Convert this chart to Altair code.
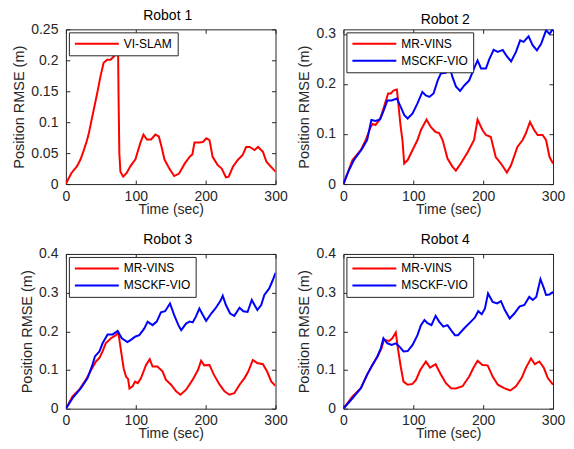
import altair as alt
import pandas as pd

FONT = "Liberation Sans"
INK = "#262626"
RED = "#ff0000"
BLUE = "#0000ff"

# ---------------- Robot 1 ----------------
r1_t = [0, 2, 8, 16, 21, 26, 30, 33, 37, 40,
        44.8, 49.5, 54, 59, 64, 68.6, 73, 74.7, 75.5, 76.5,
        78, 82, 87, 92.4, 99.5, 106.7, 111, 116, 122, 128,
        133, 137, 141, 148, 155, 162, 170, 177, 181, 184,
        191, 196, 201, 205.5, 210, 217, 223, 229, 233, 239,
        246, 253, 258, 263, 270, 275, 282, 287, 291, 296,
        300]
r1_vislam = [0, 0.005, 0.018, 0.029, 0.04, 0.056, 0.07, 0.083, 0.105, 0.121,
             0.147, 0.174, 0.196, 0.201, 0.201, 0.206, 0.212, 0.214, 0.13, 0.05,
             0.02, 0.012, 0.018, 0.029, 0.04, 0.067, 0.080, 0.072, 0.072, 0.080,
             0.077, 0.06, 0.04, 0.025, 0.013, 0.017, 0.033, 0.044, 0.048, 0.067,
             0.067, 0.068, 0.074, 0.071, 0.044, 0.031, 0.025, 0.011, 0.012, 0.028,
             0.039, 0.047, 0.06, 0.06, 0.055, 0.06, 0.052, 0.036, 0.031, 0.025,
             0.02]

# ---------------- Robot 2 ----------------
r2_mr_t = [0, 6, 13, 20, 25, 32, 39, 42, 46, 50,
           53.5, 58, 64, 68, 71, 74, 76.5, 78, 80, 82,
           84.5, 87, 92, 99, 106, 111, 119, 125, 132, 137,
           142, 149, 156, 161, 168, 178, 187, 192, 199, 204,
           211, 218, 225.5, 234, 240, 249, 256.5, 261, 267, 273,
           278, 285, 290, 295, 300]
r2_mr = [0, 0.022, 0.048, 0.06, 0.068, 0.088, 0.114, 0.12, 0.118, 0.125,
         0.134, 0.154, 0.181, 0.181, 0.186, 0.188, 0.189, 0.17, 0.141, 0.114,
         0.088, 0.041, 0.048, 0.068, 0.088, 0.108, 0.129, 0.114, 0.104, 0.102,
         0.088, 0.051, 0.035, 0.027, 0.041, 0.064, 0.088, 0.129, 0.108, 0.098,
         0.094, 0.054, 0.041, 0.023, 0.038, 0.074, 0.088, 0.101, 0.124, 0.108,
         0.098, 0.098, 0.088, 0.054, 0.041]
r2_ms_t = [0, 7, 15, 27, 34, 40, 46, 52.5, 58, 63,
           69, 76.5, 82, 87, 92, 99, 106, 113, 118, 123,
           129, 135, 139.5, 146.5, 152, 156, 161, 167, 173, 180,
           187, 192, 197, 204, 209, 215, 221, 228, 233, 240,
           247, 253, 258, 265, 271, 277, 283, 290, 295, 300]
r2_ms = [0, 0.025, 0.048, 0.071, 0.088, 0.128, 0.126, 0.129, 0.148, 0.167,
         0.167, 0.171, 0.154, 0.138, 0.131, 0.141, 0.161, 0.184, 0.177, 0.174,
         0.181, 0.207, 0.221, 0.222, 0.235, 0.214, 0.195, 0.186, 0.197, 0.207,
         0.231, 0.247, 0.231, 0.231, 0.25, 0.268, 0.264, 0.268, 0.257, 0.245,
         0.264, 0.287, 0.284, 0.295, 0.277, 0.267, 0.28, 0.307, 0.3, 0.31]

# ---------------- Robot 3 ----------------
r3_mr_t = [0, 9.5, 19, 28.7, 36, 43, 48, 52.5, 57, 64.5,
           71.7, 75, 79, 82.7, 86, 89, 91, 95.5, 99, 103,
           107.5, 114.7, 120, 124, 131, 138.5, 143, 150.5, 157.7, 164,
           172, 181.5, 189, 193.5, 198, 205.5, 211.7, 220, 227, 234,
           241, 248.5, 255.6, 261, 267.5, 273.8, 282, 288, 294, 300]
r3_mr = [0, 0.032, 0.049, 0.075, 0.1, 0.122, 0.131, 0.148, 0.169, 0.182,
         0.19, 0.197, 0.148, 0.104, 0.083, 0.077, 0.052, 0.058, 0.07, 0.066,
         0.079, 0.113, 0.128, 0.109, 0.109, 0.096, 0.075, 0.062, 0.045, 0.036,
         0.049, 0.075, 0.1, 0.124, 0.112, 0.113, 0.088, 0.062, 0.045, 0.036,
         0.04, 0.062, 0.079, 0.096, 0.126, 0.118, 0.115, 0.096, 0.07, 0.059]
r3_ms_t = [0, 9.5, 21.5, 31, 38, 41.5, 48, 52.5, 59.7, 67,
           74, 80, 88, 93, 99, 105, 112, 117, 124, 130,
           136, 142, 149, 155, 161, 165, 172, 177, 181.5, 186,
           191, 196, 200.7, 208, 214, 221, 224.5, 229, 235, 241,
           248.5, 254, 260, 266, 274, 279.5, 284, 291, 296, 300]
r3_ms = [0, 0.027, 0.053, 0.079, 0.113, 0.135, 0.148, 0.169, 0.192, 0.192,
         0.201, 0.182, 0.172, 0.178, 0.186, 0.19, 0.207, 0.225, 0.216, 0.225,
         0.249, 0.252, 0.272, 0.242, 0.216, 0.203, 0.22, 0.225, 0.223, 0.238,
         0.259, 0.242, 0.227, 0.246, 0.259, 0.278, 0.292, 0.268, 0.246, 0.24,
         0.261, 0.252, 0.25, 0.281, 0.255, 0.268, 0.294, 0.311, 0.332, 0.351]

# ---------------- Robot 4 ----------------
r4_mr_t = [0, 13, 25, 34, 41.5, 48.7, 54.5, 58, 65.5, 70,
           75, 78, 82, 86, 92, 99, 104, 110, 118, 124,
           132, 139.5, 146.7, 154, 161, 170.5, 180, 186, 192, 199,
           206.4, 213.6, 221, 230, 239, 247, 255, 261, 268.5, 274,
           280.5, 287, 292.5, 300]
r4_mr = [0, 0.032, 0.053, 0.088, 0.113, 0.135, 0.156, 0.178, 0.175, 0.182,
         0.197, 0.156, 0.109, 0.07, 0.062, 0.064, 0.075, 0.1, 0.122, 0.106,
         0.115, 0.088, 0.066, 0.053, 0.052, 0.058, 0.083, 0.105, 0.124, 0.113,
         0.112, 0.083, 0.062, 0.053, 0.047, 0.058, 0.079, 0.105, 0.13, 0.115,
         0.122, 0.105, 0.079, 0.062]
r4_ms_t = [0, 13, 25, 34, 41.5, 48.7, 53.5, 57.3, 63, 69,
           75, 80, 86, 92, 99, 106, 111, 116, 120.5, 126,
           132, 137, 143, 149, 154, 159.6, 164, 173, 182.5, 188,
           193, 198, 202.6, 207, 213.6, 220, 225.5, 231, 238, 244.6,
           252, 259, 266, 271, 276, 282, 287, 290, 295, 300]
r4_ms = [0, 0.027, 0.053, 0.088, 0.113, 0.135, 0.156, 0.182, 0.169, 0.165,
         0.169, 0.161, 0.148, 0.149, 0.165, 0.19, 0.216, 0.229, 0.221, 0.216,
         0.24, 0.225, 0.212, 0.216, 0.203, 0.19, 0.19, 0.208, 0.225, 0.235,
         0.252, 0.244, 0.259, 0.298, 0.276, 0.272, 0.278, 0.255, 0.233, 0.246,
         0.264, 0.268, 0.289, 0.281, 0.289, 0.335, 0.311, 0.294, 0.295, 0.302]

x_ticks = [0, 100, 200, 300]
y_ticks_1 = [0, 0.05, 0.1, 0.15, 0.2, 0.25]
y_ticks_2 = [0, 0.1, 0.2, 0.3]
y_ticks_34 = [0, 0.1, 0.2, 0.3, 0.4]


def panel(title, series, names, colors, ymax, yticks):
    rows = []
    for name, ts, vs in series:
        assert len(ts) == len(vs), (name, len(ts), len(vs))
        rows += [{"series": name, "t": t, "v": v} for t, v in zip(ts, vs)]
    df = pd.DataFrame(rows)
    common = dict(domain=False, grid=False, tickSize=4, offset=-4,
                  tickColor=INK, tickWidth=1, labelColor=INK, labelFont=FONT,
                  labelFontSize=14, titleFont=FONT,
                  titleFontWeight="normal", titleColor=INK,
                  labelFlush=False, labelOverlap=False)
    lines = alt.Chart(df).mark_line(strokeWidth=2, clip=True).encode(
        x=alt.X("t:Q", scale=alt.Scale(domain=[0, 300], nice=False, zero=False),
                axis=alt.Axis(values=x_ticks, title="Time (sec)", labelPadding=5,
                              titlePadding=-1, titleFontSize=14, **common)),
        y=alt.Y("v:Q", scale=alt.Scale(domain=[0, ymax], nice=False),
                axis=alt.Axis(values=yticks, format="~g", title="Position RMSE (m)",
                              labelPadding=8, titlePadding=4, titleFontSize=14.5,
                              **common)),
        color=alt.Color("series:N", scale=alt.Scale(domain=names, range=colors),
                        legend=alt.Legend(title=None, orient="top-left", offset=3,
                                          padding=5, strokeColor=INK, fillColor="white",
                                          symbolType="stroke", symbolSize=1936,
                                          symbolStrokeWidth=2, labelFont=FONT,
                                          labelFontSize=12, labelColor="#000000",
                                          labelOffset=4, rowPadding=4, cornerRadius=0,
                                          clipHeight=13)),
    )
    ghost = alt.Chart(df).mark_line(opacity=0, clip=True).encode(
        x=alt.X("t:Q", axis=alt.Axis(orient="top", values=x_ticks, labels=False,
                                     title=None, labelPadding=0, minExtent=0,
                                     maxExtent=0, **common)),
        y=alt.Y("v:Q", axis=alt.Axis(orient="right", values=yticks, labels=False,
                                     title=None, labelPadding=0, minExtent=0,
                                     maxExtent=0, **common)),
    )
    return alt.layer(lines, ghost).resolve_axis(x="independent", y="independent").properties(
        width=210, height=155,
        title=alt.TitleParams(title, font=FONT, fontSize=14, fontWeight="normal",
                              color="#000000", offset=-0.5, frame="group", dx=-3),
    )


p1 = panel("Robot 1", [("VI-SLAM", r1_t, r1_vislam)], ["VI-SLAM"], [RED], 0.25, y_ticks_1)
p2 = panel("Robot 2", [("MR-VINS", r2_mr_t, r2_mr), ("MSCKF-VIO", r2_ms_t, r2_ms)],
           ["MR-VINS", "MSCKF-VIO"], [RED, BLUE], 0.309, y_ticks_2)
p3 = panel("Robot 3", [("MR-VINS", r3_mr_t, r3_mr), ("MSCKF-VIO", r3_ms_t, r3_ms)],
           ["MR-VINS", "MSCKF-VIO"], [RED, BLUE], 0.4, y_ticks_34)
p4 = panel("Robot 4", [("MR-VINS", r4_mr_t, r4_mr), ("MSCKF-VIO", r4_ms_t, r4_ms)],
           ["MR-VINS", "MSCKF-VIO"], [RED, BLUE], 0.4, y_ticks_34)

chart = alt.concat(p1, p2, p3, p4, columns=2, spacing={"row": 70, "column": 68},
                   bounds="flush").resolve_scale(
    color="independent", x="independent", y="independent"
).properties(
    padding={"left": 3, "top": 0, "right": 0, "bottom": 0},
    background="white",
).configure_view(stroke=INK, strokeWidth=1)

chart.save("out.html", embed_options={"renderer": "svg", "actions": False})
